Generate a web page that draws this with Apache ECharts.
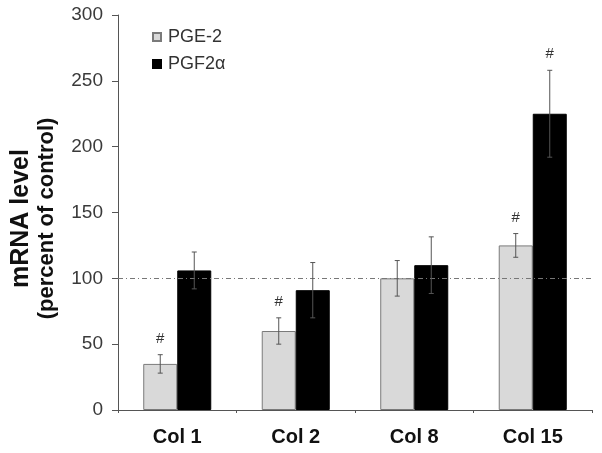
<!DOCTYPE html>
<html>
<head>
<meta charset="utf-8">
<script src="https://cdn.jsdelivr.net/npm/echarts@6/dist/echarts.min.js"></script>
<style>html,body{margin:0;padding:0;background:#fff;}#c{width:602px;height:453px;}</style>
</head>
<body>
<div id="c"></div>
<script>
const categories = ['Col 1', 'Col 2', 'Col 8', 'Col 15'];
const pge2 = [35, 60, 100, 125];
const pge2Err = [7, 10, 13.5, 9];
const pge2Sig = [1, 1, 0, 1];
const pgf2a = [106, 91, 110, 225];
const pgf2aErr = [14, 21, 21.5, 33];
const pgf2aSig = [0, 0, 0, 1];
const yTicks = [0, 50, 100, 150, 200, 250, 300];
const controlLevel = 100;

const BAR_FRAC = 0.287;
function errRender(side) {
  return function (params, api) {
    const i = api.value(0), v = api.value(1), e = api.value(2), s = api.value(3);
    const band = api.size([1, 0])[0];
    const bw = band * BAR_FRAC;
    const cx = api.coord([i, v])[0] + side * bw / 2;
    const top = api.coord([i, v + e])[1];
    const bot = api.coord([i, v - e])[1];
    const st = { stroke: '#555', lineWidth: 1 };
    const children = [
      { type: 'line', shape: { x1: cx, y1: top, x2: cx, y2: bot }, style: st },
      { type: 'line', shape: { x1: cx - 2.5, y1: top, x2: cx + 2.5, y2: top }, style: st },
      { type: 'line', shape: { x1: cx - 2.5, y1: bot, x2: cx + 2.5, y2: bot }, style: st }
    ];
    if (s) {
      children.push({ type: 'text', style: { text: '#', x: cx, y: top - 16, align: 'center', verticalAlign: 'middle', fontSize: 15, fontFamily: 'Liberation Sans, Arial, sans-serif', fill: '#333' } });
    }
    return { type: 'group', children: children };
  };
}

const chart = echarts.init(document.getElementById('c'), null, { renderer: 'canvas' });
chart.setOption({
  animation: false,
  backgroundColor: '#fff',
  textStyle: { fontFamily: 'Liberation Sans, Arial, sans-serif' },
  grid: { left: 118, right: 10, top: 15, bottom: 43, containLabel: false },
  legend: {
    orient: 'vertical', left: 152, top: 28, padding: 0,
    itemWidth: 8, itemHeight: 8, itemGap: 9, icon: 'rect',
    data: ['PGE-2', 'PGF2α'],
    textStyle: { fontSize: 18, color: '#333', padding: [0, 0, 0, 2] }
  },
  xAxis: {
    type: 'category', data: categories,
    axisLine: { lineStyle: { color: '#555', width: 1 } },
    axisTick: { show: true, length: 3, lineStyle: { color: '#555' } },
    axisLabel: { fontSize: 20, fontWeight: 'bold', color: '#111', margin: 17 }
  },
  yAxis: {
    type: 'value', min: 0, max: 300, interval: 50,
    name: '{a|mRNA level}\n{b|(percent of control)}',
    nameLocation: 'middle', nameRotate: 90, nameGap: 59,
    nameTextStyle: {
      padding: [0, 12, 0, 0],
      rich: {
        a: { fontSize: 25, fontWeight: 'bold', color: '#111', lineHeight: 25, align: 'center' },
        b: { fontSize: 22, fontWeight: 'bold', color: '#111', lineHeight: 25, align: 'center' }
      }
    },
    axisLine: { show: true, lineStyle: { color: '#555', width: 1 } },
    axisTick: { show: true, length: 6, lineStyle: { color: '#555' } },
    axisLabel: { fontSize: 19, color: '#3a3a3a', margin: 15, formatter: function (v) { return yTicks.indexOf(v) >= 0 ? String(v) : ''; } },
    splitLine: { show: false }
  },
  series: [
    {
      name: 'PGE-2', type: 'bar', data: pge2, barWidth: (BAR_FRAC * 100) + '%', barGap: '0%',
      itemStyle: { color: '#d9d9d9', borderColor: '#7a7a7a', borderWidth: 1 },
      markLine: {
        silent: true, symbol: ['none', 'none'], label: { show: false },
        lineStyle: { color: '#777', width: 1, type: [5, 3, 1, 3] },
        data: [{ yAxis: controlLevel }]
      },
      z: 2
    },
    {
      name: 'PGF2α', type: 'bar', data: pgf2a, barWidth: (BAR_FRAC * 100) + '%', barGap: '0%',
      itemStyle: { color: '#000', borderColor: '#000', borderWidth: 1 },
      z: 3
    },
    {
      type: 'custom', name: 'errPGE', renderItem: errRender(-1), z: 5,
      data: pge2.map(function (v, i) { return [i, v, pge2Err[i], pge2Sig[i]]; })
    },
    {
      type: 'custom', name: 'errPGF', renderItem: errRender(1), z: 5,
      data: pgf2a.map(function (v, i) { return [i, v, pgf2aErr[i], pgf2aSig[i]]; })
    }
  ]
});
</script>
</body>
</html>
